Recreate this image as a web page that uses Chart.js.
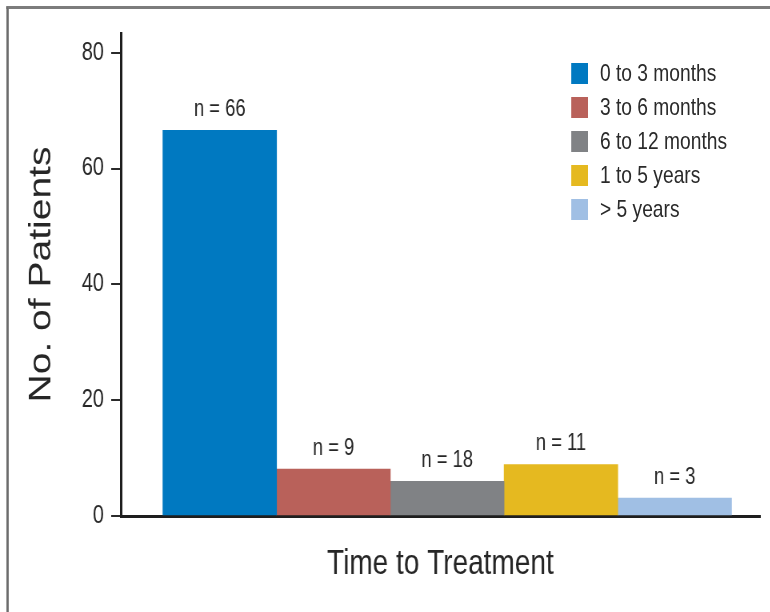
<!DOCTYPE html>
<html>
<head>
<meta charset="utf-8">
<script src="https://cdn.jsdelivr.net/npm/chart.js@4/dist/chart.umd.min.js"></script>
<style>
  body { margin: 0; background: #fff; overflow: hidden; }
  /* the source figure is squeezed sideways, so draw wide and squeeze */
  #wrap { position: relative; width: 963px; height: 612px; transform: scaleX(0.8); transform-origin: 0 0; }
  #frame {
    position: absolute; left: 8px; top: 6px; width: 960px; height: 603px;
    border-top: 3px solid #7c7c7c; border-left: 3px solid #6c6c6c; border-bottom: 1px solid #d8d8d8;
    pointer-events: none;
  }
  #legend { position: absolute; left: 714px; top: 56px; font-family: 'Liberation Sans', Arial, sans-serif; font-size: 24px; color: #2a2a2a; }
  #legend .row { display: flex; align-items: center; height: 34px; }
  #legend .sw { width: 21px; height: 21px; margin-right: 15px; }
</style>
</head>
<body>
<div id="wrap">
  <canvas id="chart" width="963" height="612"></canvas>
  <div id="frame"></div>
  <div id="legend"></div>
</div>
<script>
// ======================== Data ========================
const categories = ["0 to 3 months", "3 to 6 months", "6 to 12 months", "1 to 5 years", "> 5 years"];
const patients = [66.6, 8.1, 6.0, 8.9, 3.1];
const nLabels = ["n = 66", "n = 9", "n = 18", "n = 11", "n = 3"];
const yTicks = [0, 20, 40, 60, 80];
const colors = ["#0079c1", "#b9615a", "#808285", "#e5b920", "#a0bfe4"];

const SANS = "'Liberation Sans', Arial, sans-serif";
const INK = "#262626";

// ======================== Bar labels ========================
const barLabels = {
    id: "barLabels",
    afterDatasetsDraw(chart) {
        let ctx = chart.ctx;
        ctx.save();
        ctx.font = "23px " + SANS;
        ctx.fillStyle = INK;
        ctx.textAlign = "center";
        ctx.textBaseline = "alphabetic";
        chart.data.datasets.forEach((ds, i) => {
            let bar = chart.getDatasetMeta(i).data[0];
            ctx.fillText(nLabels[i], bar.x, bar.y - 14);
        });
        ctx.restore();
    }
};

// ======================== Chart ========================
let ctx = document.getElementById("chart").getContext("2d");

let chart = new Chart(ctx, {
    type: "bar",
    data: {
        datasets: categories.map((name, i) => ({
            label: name,
            data: [{ x: i + 1, y: patients[i] }],
            backgroundColor: colors[i],
            borderWidth: 0,
            grouped: false,
            barPercentage: 1,
            categoryPercentage: 1
        }))
    },
    options: {
        responsive: false,
        animation: false,
        layout: { padding: { top: 33, right: 13, left: 0, bottom: 0 } },
        plugins: {
            legend: { display: false },
            tooltip: { enabled: false }
        },
        scales: {
            x: {
                type: "linear",
                offset: false,
                min: 0.13,
                max: 5.75,
                grid: { display: false },
                border: { color: "#1e1e1e", width: 3 },
                ticks: { display: false },
                afterBuildTicks: s => { s.ticks = categories.map((c, i) => ({ value: i + 1 })); },
                afterFit: s => { s.height = 96; },
                title: {
                    display: true,
                    text: "Time to Treatment",
                    color: INK,
                    font: { family: SANS, size: 35 },
                    padding: { top: 0, bottom: 27 }
                }
            },
            y: {
                min: 0,
                max: 83.4,
                grid: { drawOnChartArea: false, color: "#2a2a2a", lineWidth: 2, tickLength: 12 },
                border: { color: "#1e1e1e", width: 3 },
                ticks: {
                    stepSize: 20,
                    padding: 9,
                    color: INK,
                    font: { family: SANS, size: 25 }
                },
                afterBuildTicks: s => { s.ticks = yTicks.map(v => ({ value: v })); },
                afterFit: s => { s.width = 151; },
                title: {
                    display: true,
                    text: "No. of Patients",
                    color: INK,
                    font: { family: SANS, size: 39 },
                    padding: { top: 29, bottom: 0 }
                }
            }
        }
    },
    plugins: [barLabels]
});

// ======================== Legend ========================
let legend = document.getElementById("legend");
categories.forEach((name, i) => {
    let row = document.createElement("div");
    row.className = "row";
    let sw = document.createElement("span");
    sw.className = "sw";
    sw.style.background = colors[i];
    let txt = document.createElement("span");
    txt.innerText = name;
    row.appendChild(sw);
    row.appendChild(txt);
    legend.appendChild(row);
});
</script>
</body>
</html>
